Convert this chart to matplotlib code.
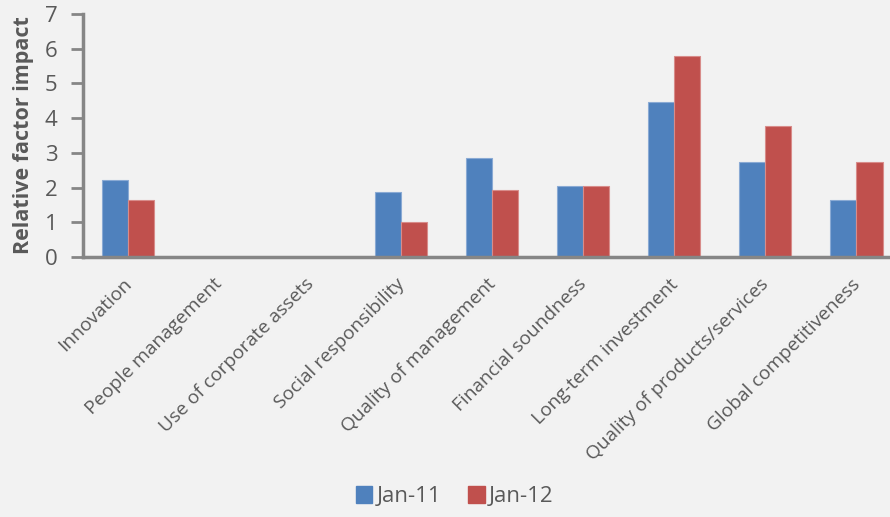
import numpy as np
import matplotlib.pyplot as plt
import matplotlib.transforms as mtransforms
from matplotlib.patches import Patch

categories = [
    "Innovation",
    "People management",
    "Use of corporate assets",
    "Social responsibility",
    "Quality of management",
    "Financial soundness",
    "Long-term investment",
    "Quality of products/services",
    "Global competitiveness",
]
jan11 = [2.21, 0, 0, 1.86, 2.84, 2.04, 4.46, 2.73, 1.63]
jan12 = [1.63, 0, 0, 1.01, 1.92, 2.04, 5.78, 3.77, 2.73]
series_labels = ["Jan-11", "Jan-12"]

BLUE = "#4F81BD"
RED = "#C0504D"
BG = "#F2F2F2"
TXT = "#595959"
AX = "#868686"

plt.rcParams["font.family"] = ["Open Sans", "DejaVu Sans"]

fig = plt.figure(figsize=(8.9, 5.17), dpi=100, facecolor=BG)
# plot area runs past the right edge of the picture, like the reference
ax = fig.add_axes([82.5 / 890, 1 - 257 / 517, (902 - 82.5) / 890, (257 - 14) / 517])
ax.set_facecolor(BG)

x = np.arange(len(categories))
w = 0.286
ax.bar(x - w / 2, jan11, w, color=BLUE, edgecolor="#8AAAD4", linewidth=0.8)
ax.bar(x + w / 2, jan12, w, color=RED, edgecolor="#D88C8A", linewidth=0.8)

ax.set_xlim(-0.5, len(categories) - 0.5)
ax.set_ylim(0, 7)
ax.set_yticks(range(8))
ax.tick_params(axis="y", direction="out", length=9, width=2, color=AX,
               labelsize=16, labelcolor=TXT, pad=9)
ax.tick_params(axis="x", length=0, pad=13)
ax.set_xticks(x)
ax.set_xticklabels(categories, rotation=45, ha="right", fontsize=13.8, color=TXT)
shift = mtransforms.ScaledTranslation(7 / 100, 0, fig.dpi_scale_trans)
for lbl in ax.get_xticklabels():
    lbl.set_transform(lbl.get_transform() + shift)

for s in ["top", "right"]:
    ax.spines[s].set_visible(False)
for s in ["left", "bottom"]:
    ax.spines[s].set_color(AX)
    ax.spines[s].set_linewidth(2.5)
ax.spines["bottom"].set_zorder(5)

ax.set_ylabel("Relative factor impact", fontsize=15.5, fontweight="bold", color=TXT, labelpad=8)

handles = [Patch(color=BLUE), Patch(color=RED)]
fig.legend(handles, series_labels, loc="lower center", bbox_to_anchor=(0.511, -0.02), ncol=2,
           frameon=False, fontsize=16, labelcolor=TXT, handlelength=0.75, handleheight=0.75,
           handletextpad=0.2, columnspacing=1.2)

fig.savefig("out.png", dpi=100, facecolor=BG)
